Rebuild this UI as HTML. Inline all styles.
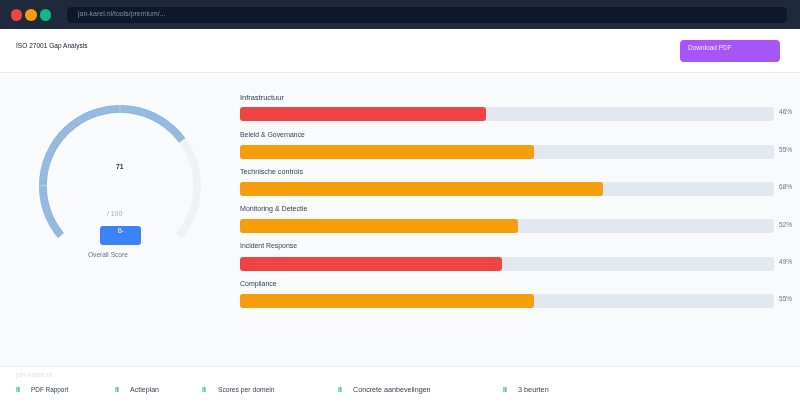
<!DOCTYPE html>
<html><head><meta charset="utf-8">
<style>
*{box-sizing:border-box;margin:0;padding:0}
html,body{width:800px;height:420px;overflow:hidden;background:#fff;font-family:"Liberation Sans",sans-serif;color:#1e293b}
.abs{position:absolute;white-space:nowrap}
.chrome{position:absolute;left:0;top:0;width:800px;height:29px;background:#1e293b}
.dot{position:absolute;top:9.4px;width:11.5px;height:11.5px;border-radius:50%}
.url{position:absolute;left:67px;top:7px;width:720px;height:16px;border-radius:5px;background:#0f172a;color:#8290a6;font-size:7.6px;line-height:13.6px;padding-left:10.5px;white-space:nowrap}
.hdr{position:absolute;left:0;top:29px;width:800px;height:44px;background:#fff;border-bottom:1px solid #e5e9ef}
.title{position:absolute;left:16px;top:12px;font-size:7.6px;line-height:9px;color:#0f172a;white-space:nowrap}
.btn{position:absolute;left:680px;top:11px;width:100px;height:22px;border-radius:4px;background:#a855f7;color:#f3e8ff;font-size:7.6px;line-height:9px;padding:3px 0 0 8px;white-space:nowrap}
.main{position:absolute;left:0;top:73px;width:800px;height:294px;background:#f8fafc;border-bottom:1px solid #e8ecf1}
.lbl{position:absolute;left:240px;font-size:7.6px;line-height:9px;color:#334155;white-space:nowrap}
.track{position:absolute;left:240px;width:534px;height:14px;border-radius:3px;background:#e2e8f0}
.fill{position:absolute;left:0;top:0;height:14px;border-radius:3px}
.pct{position:absolute;left:778.5px;font-size:7.2px;line-height:9px;color:#64748b;white-space:nowrap}
.foot{position:absolute;left:0;top:367px;width:800px;height:53px;background:#fff}
.fi{position:absolute;top:18.1px;font-size:7.6px;line-height:9px;color:#334155;white-space:nowrap}
.tick{position:absolute;top:19.9px;width:4.3px;height:5.1px;background:linear-gradient(90deg,#b4edd6 0,#b4edd6 10%,#58b592 16%,#58b592 32%,#a0e8ca 38%,#a0e8ca 58%,#58b592 64%,#58b592 82%,#b4edd6 90%)}
</style></head><body>
<div class="chrome">
  <div class="dot" style="left:10.5px;background:#ef4444"></div>
  <div class="dot" style="left:25.4px;background:#f59e0b"></div>
  <div class="dot" style="left:39.9px;background:#10b981"></div>
  <div class="url"><span style="display:inline-block;transform-origin:0 50%;transform:scaleX(0.9173)">jan-karel.nl/tools/premium/...</span></div>
</div>
<div class="hdr">
  <div class="title"><span style="display:inline-block;transform-origin:0 50%;transform:scaleX(0.8640)">ISO 27001 Gap Analysis</span></div>
  <div class="btn"><span style="display:inline-block;transform-origin:0 50%;transform:scaleX(0.8565)">Download PDF</span></div>
</div>
<div class="main">
  <svg class="abs" style="left:20px;top:7px" width="200" height="200" viewBox="20 80 200 200">
    <path d="M60.94 235.56 A77.1 77.1 0 1 1 179.06 235.56" fill="none" stroke="#eef2f7" stroke-width="7.8"/>
    <path d="M60.94 235.56 A77.1 77.1 0 1 1 182.14 140.36" fill="none" stroke="#8db5dc" stroke-width="7.8"/>
    <path d="M60.94 235.56 A77.1 77.1 0 1 1 182.14 140.36" fill="none" stroke="#b3cfeb" stroke-width="6.2" stroke-dasharray="0.7 1.2" opacity="0.6"/>
    <path d="M39.5 185.8H49" stroke="#e3eef8" stroke-width="0.5" fill="none"/>
    <path d="M119.9 105V113.5" stroke="#dbe9f6" stroke-width="0.5" fill="none"/>
  </svg>
  <div class="abs" style="left:116.2px;top:89px;font-size:7.8px;font-weight:700;line-height:9px;color:#273244"><span style="display:inline-block;transform-origin:0 50%;transform:scaleX(0.8633)">71</span></div>
  <div class="abs" style="left:106.7px;top:136px;font-size:7.2px;line-height:9px;color:#a3aebd"><span style="display:inline-block;transform-origin:0 50%;transform:scaleX(0.9500)">/ 100</span></div>
  <div class="abs" style="left:100px;top:153px;width:41px;height:19px;border-radius:3px;background:#3b82f6"></div>
  <div class="abs" style="left:117.6px;top:153px;font-size:7.2px;line-height:9px;color:#fff"><span style="display:inline-block;transform-origin:0 50%;transform:scaleX(0.7930)">B-</span></div>
  <div class="abs" style="left:88px;top:177px;font-size:7.2px;line-height:9px;color:#64748b"><span style="display:inline-block;transform-origin:0 50%;transform:scaleX(0.9140)">Overall Score</span></div>

  <div class="lbl" style="top:19.5px"><span style="display:inline-block;transform-origin:0 50%;transform:scaleX(0.9810)">Infrastructuur</span></div>
  <div class="track" style="top:34px"><div class="fill" style="width:46%;background:#ef4444"></div></div>
  <div class="pct" style="top:34.4px"><span style="display:inline-block;transform-origin:0 50%;transform:scaleX(0.9103)">46%</span></div>

  <div class="lbl" style="top:56.6px"><span style="display:inline-block;transform-origin:0 50%;transform:scaleX(0.9043)">Beleid &amp; Governance</span></div>
  <div class="track" style="top:71.5px"><div class="fill" style="width:55%;background:#f59e0b"></div></div>
  <div class="pct" style="top:71.6px"><span style="display:inline-block;transform-origin:0 50%;transform:scaleX(0.9103)">55%</span></div>

  <div class="lbl" style="top:93.5px"><span style="display:inline-block;transform-origin:0 50%;transform:scaleX(0.9445)">Technische controls</span></div>
  <div class="track" style="top:109px"><div class="fill" style="width:68%;background:#f59e0b"></div></div>
  <div class="pct" style="top:109px"><span style="display:inline-block;transform-origin:0 50%;transform:scaleX(0.9103)">68%</span></div>

  <div class="lbl" style="top:131.3px"><span style="display:inline-block;transform-origin:0 50%;transform:scaleX(0.9296)">Monitoring &amp; Detectie</span></div>
  <div class="track" style="top:146px"><div class="fill" style="width:52%;background:#f59e0b"></div></div>
  <div class="pct" style="top:146.6px"><span style="display:inline-block;transform-origin:0 50%;transform:scaleX(0.9103)">52%</span></div>

  <div class="lbl" style="top:168.2px"><span style="display:inline-block;transform-origin:0 50%;transform:scaleX(0.9061)">Incident Response</span></div>
  <div class="track" style="top:183.5px"><div class="fill" style="width:49%;background:#ef4444"></div></div>
  <div class="pct" style="top:183.6px"><span style="display:inline-block;transform-origin:0 50%;transform:scaleX(0.9103)">49%</span></div>

  <div class="lbl" style="top:205.7px"><span style="display:inline-block;transform-origin:0 50%;transform:scaleX(0.9150)">Compliance</span></div>
  <div class="track" style="top:221px"><div class="fill" style="width:55%;background:#f59e0b"></div></div>
  <div class="pct" style="top:221px"><span style="display:inline-block;transform-origin:0 50%;transform:scaleX(0.9103)">55%</span></div>
</div>
<div class="foot">
  <div class="abs" style="left:16px;top:2.6px;font-size:7.6px;line-height:9px;color:#dbe3ee"><span style="display:inline-block;transform-origin:0 50%;transform:scaleX(0.9689)">jan-karel.nl</span></div>
  <div class="tick" style="left:15.8px"></div><div class="fi" style="left:30.8px"><span style="display:inline-block;transform-origin:0 50%;transform:scaleX(0.8415)">PDF Rapport</span></div>
  <div class="tick" style="left:114.8px"></div><div class="fi" style="left:130px"><span style="display:inline-block;transform-origin:0 50%;transform:scaleX(0.9280)">Actieplan</span></div>
  <div class="tick" style="left:201.8px"></div><div class="fi" style="left:217.5px"><span style="display:inline-block;transform-origin:0 50%;transform:scaleX(0.8863)">Scores per domein</span></div>
  <div class="tick" style="left:337.6px"></div><div class="fi" style="left:352.5px"><span style="display:inline-block;transform-origin:0 50%;transform:scaleX(0.9426)">Concrete aanbevelingen</span></div>
  <div class="tick" style="left:502.8px"></div><div class="fi" style="left:518px"><span style="display:inline-block;transform-origin:0 50%;transform:scaleX(0.9566)">3 beurten</span></div>
</div>
</body></html>
